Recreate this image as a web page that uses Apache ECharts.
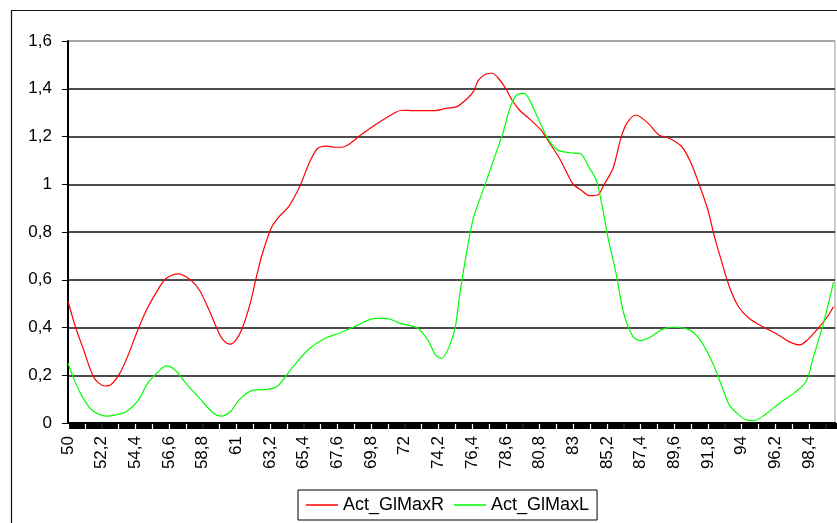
<!DOCTYPE html>
<html>
<head>
<meta charset="utf-8">
<script src="https://cdn.jsdelivr.net/npm/echarts@6/dist/echarts.min.js"></script>
<style>
  html, body { margin: 0; padding: 0; background: #fff; }
  #chart { width: 837px; height: 523px; }
</style>
</head>
<body>
<div id="chart"></div>
<script>
// Act_GlMaxR (red)
const rightX = [50.0, 50.5, 51.0, 51.7, 52.4, 52.8, 53.4, 53.9, 54.5, 55.1, 55.7, 56.4, 57.2, 58.0, 58.6, 59.2,
  59.7, 60.1, 60.6, 61.0, 61.4, 61.9, 62.3, 62.7, 63.3, 63.8, 64.4, 64.9, 65.2, 65.8, 66.3, 66.9, 67.4, 67.9,
  68.3, 69.1, 70.1, 71.1, 71.8, 72.6, 73.9, 74.7, 75.4, 76.1, 76.5, 76.8, 77.3, 77.7, 78.1, 78.6, 79.0, 79.5,
  80.1, 80.9, 81.4, 82.1, 82.6, 83.0, 83.5, 84.1, 84.6, 85.0, 85.6, 86.1, 86.5, 87.1, 87.9, 88.6, 89.3, 90.1,
  90.7, 91.2, 91.8, 92.2, 92.6, 93.2, 93.8, 94.5, 95.4, 96.4, 97.1, 97.8, 98.3, 99.0, 99.6, 100.0];
const rightY = [0.51, 0.40, 0.31, 0.19, 0.155, 0.16, 0.21, 0.28, 0.38, 0.47, 0.54, 0.605, 0.625, 0.60, 0.555, 0.475,
  0.40, 0.35, 0.33, 0.35, 0.40, 0.50, 0.61, 0.71, 0.82, 0.865, 0.905, 0.96, 1.00, 1.095, 1.15, 1.16, 1.155, 1.155,
  1.165, 1.205, 1.25, 1.29, 1.31, 1.308, 1.308, 1.318, 1.325, 1.36, 1.39, 1.435, 1.462, 1.465, 1.445, 1.40, 1.353, 1.31,
  1.276, 1.227, 1.178, 1.109, 1.046, 1.0, 0.976, 0.952, 0.955, 0.997, 1.067, 1.19, 1.255, 1.29, 1.255, 1.206, 1.192, 1.157,
  1.088, 1.004, 0.892, 0.787, 0.697, 0.571, 0.487, 0.438, 0.403, 0.369, 0.341, 0.327, 0.348, 0.397, 0.445, 0.487];

// Act_GlMaxL (green)
const leftX = [50.0, 50.5, 51.0, 51.6, 52.5, 53.1, 53.8, 54.6, 55.2, 55.9, 56.4, 57.0, 57.7, 58.6, 59.5, 60.0,
  60.6, 61.2, 62.1, 63.0, 63.7, 64.7, 65.8, 66.9, 67.6, 68.7, 70.1, 70.8, 71.7, 72.8, 73.5, 74.0, 74.4, 74.9,
  75.3, 75.6, 76.1, 76.5, 77.2, 77.8, 78.4, 78.9, 79.3, 79.8, 80.2, 80.8, 81.4, 82.0, 82.8, 83.5, 84.0, 84.5,
  84.9, 85.3, 85.8, 86.3, 86.9, 87.4, 88.1, 88.8, 89.6, 90.6, 91.2, 91.8, 92.3, 92.8, 93.2, 93.7, 94.3, 94.8,
  95.5, 96.6, 97.4, 98.2, 98.7, 99.4, 100.0];
const leftY = [0.25, 0.166, 0.103, 0.052, 0.029, 0.034, 0.047, 0.096, 0.166, 0.215, 0.239, 0.222, 0.166, 0.103, 0.041, 0.029,
  0.047, 0.099, 0.138, 0.141, 0.155, 0.236, 0.313, 0.358, 0.373, 0.403, 0.438, 0.438, 0.417, 0.399, 0.348, 0.285, 0.271, 0.32,
  0.403, 0.543, 0.738, 0.864, 0.99, 1.102, 1.213, 1.325, 1.374, 1.381, 1.346, 1.262, 1.185, 1.143, 1.132, 1.127, 1.074, 1.018,
  0.906, 0.767, 0.627, 0.459, 0.362, 0.345, 0.362, 0.392, 0.401, 0.39, 0.355, 0.292, 0.222, 0.138, 0.075, 0.041, 0.013, 0.01,
  0.034, 0.089, 0.124, 0.173, 0.278, 0.431, 0.59];

// x tick labels (every 2.2) and the tick blocks under the axis
const xLabelValues = [50, 52.2, 54.4, 56.6, 58.8, 61, 63.2, 65.4, 67.6, 69.8, 72, 74.2, 76.4, 78.6, 80.8, 83,
  85.2, 87.4, 89.6, 91.8, 94, 96.2, 98.4];
const xTickValues = [50.55, 51.65, 52.75, 53.85, 54.95, 56.05, 57.15, 58.25, 59.35, 60.45, 61.55, 62.65, 63.75,
  64.85, 65.95, 67.05, 68.15, 69.25, 70.35, 71.45, 72.55, 73.65, 74.75, 75.85, 76.95, 78.05, 79.15, 80.25, 81.35,
  82.45, 83.55, 84.65, 85.75, 86.85, 87.95, 89.05, 90.15, 91.25, 92.35, 93.45, 94.55, 95.65, 96.75, 97.85, 98.95, 100.05];

const seriesNames = ['Act_GlMaxR', 'Act_GlMaxL'];

const chart = echarts.init(document.getElementById('chart'));

const comma = (v) => String(v).replace('.', ',');
const font = "'Liberation Sans', Arial, sans-serif";

const option = {
  backgroundColor: '#fff',
  animation: false,
  textStyle: { fontFamily: font, color: '#000' },
  graphic: [{
    type: 'rect',
    silent: true,
    z: -10,
    shape: { x: 11.5, y: 10.5, width: 900, height: 600 },
    style: { fill: 'none', stroke: '#111', lineWidth: 1.2 }
  }],
  grid: {
    left: 68, right: 2, top: 41, bottom: 100,
    show: true, borderColor: '#999', borderWidth: 1, backgroundColor: '#fff'
  },
  legend: {
    left: 298, top: 490,
    padding: [6, 8, 6, 8],
    itemGap: 10,
    itemWidth: 32,
    itemHeight: 1.5,
    icon: 'rect',
    borderColor: '#000',
    borderWidth: 1,
    backgroundColor: '#fff',
    textStyle: { fontSize: 18, color: '#000', fontFamily: font },
    data: seriesNames
  },
  xAxis: {
    type: 'value',
    min: 50,
    max: 100.1,
    axisLine: { show: true, onZero: false, lineStyle: { color: '#000', width: 2 } },
    axisTick: {
      show: true,
      customValues: xTickValues,
      length: 6,
      lineStyle: { color: '#000', width: 15.8 }
    },
    axisLabel: {
      customValues: xLabelValues,
      rotate: 90,
      margin: 13,
      fontSize: 17,
      color: '#000',
      fontFamily: font,
      formatter: comma
    },
    splitLine: { show: false }
  },
  yAxis: {
    type: 'value',
    min: 0,
    max: 1.6,
    interval: 0.2,
    axisLine: { show: true, lineStyle: { color: '#000', width: 2 } },
    axisTick: { show: true, length: 6, lineStyle: { color: '#000', width: 1 } },
    axisLabel: { margin: 16, fontSize: 17, color: '#000', fontFamily: font, formatter: comma },
    splitLine: {
      show: true,
      lineStyle: {
        width: 1.5,
        color: ['#000', '#111', '#111', '#111', '#111', '#111', '#111', '#111', '#999']
      }
    }
  },
  series: [
    {
      name: seriesNames[0],
      type: 'line',
      data: rightX.map((x, i) => [x, rightY[i]]),
      smooth: 0.3,
      showSymbol: false,
      symbol: 'none',
      color: '#ff0000',
      lineStyle: { color: '#ff0000', width: 1.2 }
    },
    {
      name: seriesNames[1],
      type: 'line',
      data: leftX.map((x, i) => [x, leftY[i]]),
      smooth: 0.3,
      showSymbol: false,
      symbol: 'none',
      color: '#00ff00',
      lineStyle: { color: '#00ff00', width: 1.2 }
    }
  ]
};

chart.setOption(option);
</script>
</body>
</html>
